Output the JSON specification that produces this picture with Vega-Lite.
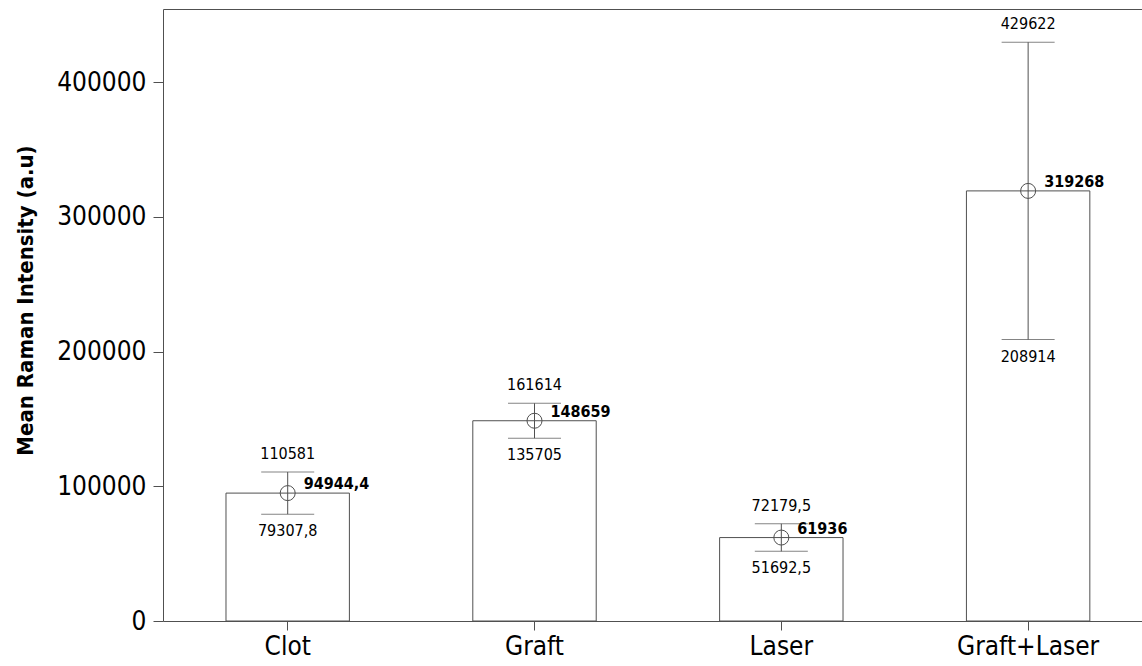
{
  "$schema": "https://vega.github.io/schema/vega-lite/v6.json",
  "autosize": {"type": "none"},
  "padding": {"left": 163, "top": 9, "right": 0, "bottom": 45},
  "width": 979,
  "height": 612,
  "background": "white",
  "config": {
    "view": {"stroke": null},
    "font": "DejaVu Sans Condensed, DejaVu Sans",
    "axis": {
      "domainColor": "#505050",
      "tickColor": "#505050",
      "grid": false,
      "labelColor": "black",
      "labelFont": "DejaVu Sans Condensed, DejaVu Sans",
      "titleFont": "DejaVu Sans Condensed, DejaVu Sans"
    }
  },
  "data": {
    "values": [
      {"group": "Clot", "mean": 94944.4, "upper": 110581, "lower": 79307.8},
      {"group": "Graft", "mean": 148659, "upper": 161614, "lower": 135705},
      {"group": "Laser", "mean": 61936, "upper": 72179.5, "lower": 51692.5},
      {"group": "Graft+Laser", "mean": 319268, "upper": 429622, "lower": 208914}
    ]
  },
  "transform": [
    {"calculate": "replace(format(datum.mean, '.6~g'), '.', ',')", "as": "meanLabel"},
    {"calculate": "replace(format(datum.upper, '.6~g'), '.', ',')", "as": "upperLabel"},
    {"calculate": "replace(format(datum.lower, '.6~g'), '.', ',')", "as": "lowerLabel"}
  ],
  "encoding": {
    "x": {
      "field": "group",
      "type": "nominal",
      "sort": ["Clot", "Graft", "Laser", "Graft+Laser"],
      "scale": {"paddingInner": 0.5, "paddingOuter": 0.2333, "align": 0.547},
      "axis": null
    }
  },
  "layer": [
    {
      "mark": {"type": "bar", "fill": "white", "stroke": "#505050", "strokeWidth": 1},
      "encoding": {
        "x": {
          "field": "group",
          "type": "nominal",
          "sort": ["Clot", "Graft", "Laser", "Graft+Laser"],
          "axis": {
            "title": null,
            "labelAngle": 0,
            "labelFontSize": 26,
            "labelPadding": 3,
            "tickSize": 9,
            "domainWidth": 1
          }
        },
        "y": {
          "field": "mean",
          "type": "quantitative",
          "scale": {"domain": [0, 454300], "nice": false, "zero": true},
          "axis": {
            "title": "Mean Raman Intensity (a.u)",
            "titleFontSize": 22,
            "titleFontWeight": "bold",
            "titleColor": "black",
            "titlePadding": 19,
            "titleY": 291,
            "values": [0, 100000, 200000, 300000, 400000],
            "format": "d",
            "labelFontSize": 26,
            "labelPadding": 7,
            "tickSize": 10
          }
        }
      }
    },
    {
      "mark": {"type": "rule", "color": "#505050", "strokeWidth": 1},
      "encoding": {
        "y": {"field": "lower", "type": "quantitative"},
        "y2": {"field": "upper"}
      }
    },
    {
      "mark": {"type": "tick", "color": "#505050", "size": 53, "thickness": 1, "orient": "horizontal"},
      "encoding": {"y": {"field": "upper", "type": "quantitative"}}
    },
    {
      "mark": {"type": "tick", "color": "#505050", "size": 53, "thickness": 1, "orient": "horizontal"},
      "encoding": {"y": {"field": "lower", "type": "quantitative"}}
    },
    {
      "mark": {"type": "point", "shape": "circle", "size": 225, "filled": false, "stroke": "#505050", "strokeWidth": 1, "opacity": 1},
      "encoding": {
        "x": {
          "field": "group",
          "type": "nominal",
          "sort": ["Clot", "Graft", "Laser", "Graft+Laser"],
          "axis": {"orient": "top", "labels": false, "ticks": false, "title": null, "domainColor": "#505050"}
        },
        "y": {"field": "mean", "type": "quantitative"}
      }
    },
    {
      "mark": {"type": "text", "fontSize": 16, "align": "center", "baseline": "alphabetic", "dy": -13, "color": "black"},
      "encoding": {
        "y": {"field": "upper", "type": "quantitative"},
        "text": {"field": "upperLabel"}
      }
    },
    {
      "mark": {"type": "text", "fontSize": 16, "align": "center", "baseline": "top", "dy": 9, "color": "black"},
      "encoding": {
        "y": {"field": "lower", "type": "quantitative"},
        "text": {"field": "lowerLabel"}
      }
    },
    {
      "mark": {"type": "text", "fontSize": 16, "fontWeight": "bold", "align": "left", "baseline": "middle", "dx": 16, "dy": -9, "color": "black"},
      "encoding": {
        "y": {"field": "mean", "type": "quantitative"},
        "text": {"field": "meanLabel"}
      }
    }
  ],
  "resolve": {"axis": {"x": "independent"}}
}
